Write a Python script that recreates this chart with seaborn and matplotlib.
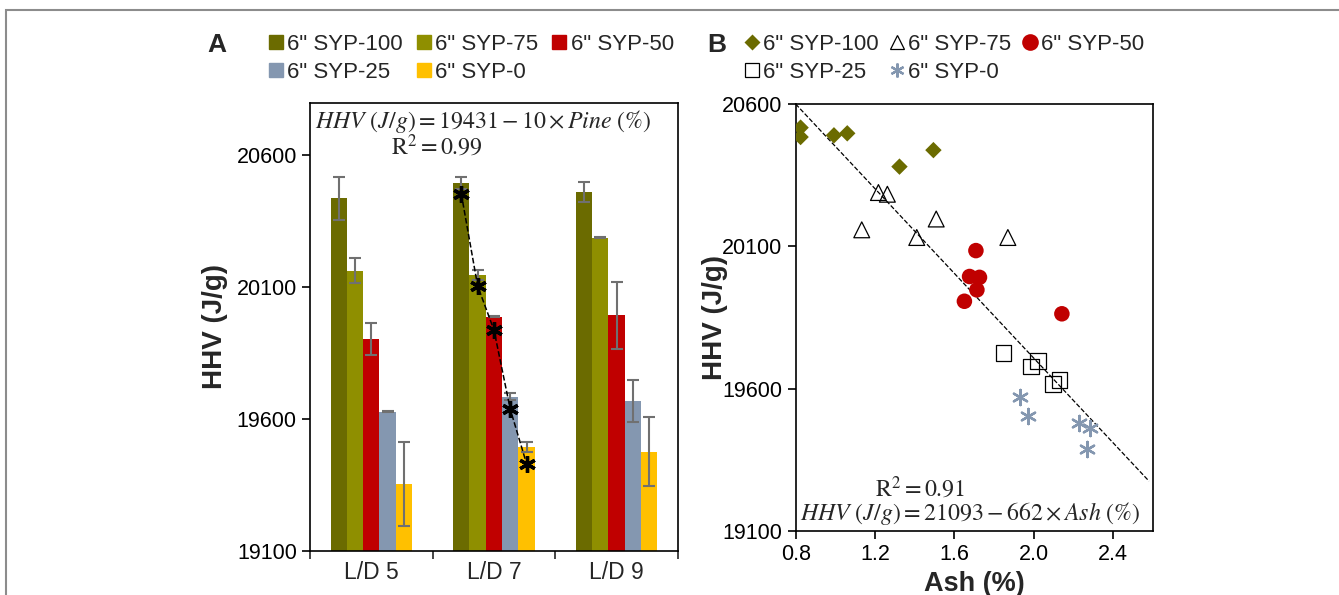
import numpy as np
import pandas as pd
import matplotlib
matplotlib.use("Agg")
import matplotlib.pyplot as plt
import seaborn as sns
from matplotlib.lines import Line2D
from matplotlib.patches import Rectangle

sns.set_style("ticks")
plt.rcParams['font.family'] = ['Liberation Sans', 'DejaVu Sans']
plt.rcParams['mathtext.fontset'] = 'stix'

# datos panel A (barras)
categories = ["L/D 5", "L/D 7", "L/D 9"]
blends = ['6" SYP-100', '6" SYP-75', '6" SYP-50', '6" SYP-25', '6" SYP-0']
colors = ["#6b6b00", "#8f8f00", "#c00000", "#8497b0", "#ffc000"]

hhv_100 = [20436, 20495, 20461]
hhv_75 = [20162, 20145, 20287]
hhv_50 = [19902, 19988, 19993]
hhv_25 = [19628, 19685, 19669]
hhv_0 = [19354, 19493, 19476]

err_100 = [82, 23, 38]
err_75 = [47, 19, 3]
err_50 = [60, 3, 127]
err_25 = [2, 12, 79]
err_0 = [158, 19, 130]

# ajuste lineal (asteriscos sobre L/D 7)
fit_pine = [20452, 20104, 19937, 19637, 19430]

# datos panel B (dispersion)
ash_100 = [0.825, 0.825, 0.993, 1.06, 1.323, 1.494]
hhv_b_100 = [20517, 20484, 20490, 20497, 20380, 20438]
ash_75 = [1.217, 1.262, 1.133, 1.41, 1.508, 1.869]
hhv_b_75 = [20289, 20283, 20158, 20131, 20196, 20131]
ash_50 = [1.708, 1.676, 1.726, 1.713, 1.650, 2.141]
hhv_b_50 = [20085, 19994, 19991, 19947, 19907, 19863]
ash_25 = [1.847, 1.985, 2.020, 2.096, 2.129]
hhv_b_25 = [19725, 19678, 19696, 19617, 19631]
ash_0 = [1.928, 1.968, 2.229, 2.284, 2.267]
hhv_b_0 = [19571, 19504, 19480, 19463, 19387]

trend_x = [0.80, 2.58]
trend_y = [20600, 19275]

df = pd.DataFrame({
    "LD": categories * 5,
    "blend": np.repeat(blends, 3),
    "HHV": hhv_100 + hhv_75 + hhv_50 + hhv_25 + hhv_0,
})
errs = [err_100, err_75, err_50, err_25, err_0]

fig = plt.figure(figsize=(13.39, 5.95), dpi=100)
ax1 = fig.add_axes([0.2315, 0.074, 0.2748, 0.7529])
ax2 = fig.add_axes([0.5942, 0.1076, 0.2669, 0.7176])

# ---------------- panel A
sns.barplot(data=df, x="LD", y="HHV", hue="blend", order=categories, hue_order=blends,
            palette=colors, saturation=1, width=0.665, errorbar=None, legend=False, ax=ax1,
            edgecolor="none", linewidth=0)
bar_conts = list(ax1.containers)
for cont, e in zip(bar_conts, errs):
    xs = [b.get_x() + b.get_width() / 2 for b in cont]
    ys = [b.get_height() for b in cont]
    ax1.errorbar(xs, ys, yerr=e, fmt="none", ecolor="#707070", elinewidth=1.5,
                 capsize=4, capthick=1.5, zorder=3)

# asteriscos y linea del ajuste en L/D 7
xs7 = [c[1].get_x() + c[1].get_width() / 2 for c in bar_conts]
ax1.plot(xs7, fit_pine, ls="--", color="black", lw=1.1, zorder=4)
ax1.plot(xs7, fit_pine, ls="none", marker=(6, 2, 0), ms=12, mew=2.4, color="black", zorder=5)

ax1.set_ylim(19100, 20797)
ax1.set_xlim(-0.5, 2.5)
ax1.set_yticks([19100, 19600, 20100, 20600])
ax1.set_xticks([0, 1, 2])
ax1.set_xticklabels(categories)
ax1.set_xticks([-0.5, 0.5, 1.5, 2.5], minor=True)
ax1.tick_params(axis="x", which="major", length=0, labelsize=16.5, pad=7)
ax1.tick_params(axis="x", which="minor", length=6, width=1.2, direction="out")
ax1.tick_params(axis="y", length=6, width=1.2, labelsize=15.5, colors="black")
ax1.set_xlabel("")
ax1.set_ylabel("HHV (J/g)", fontsize=20, fontweight="bold", labelpad=6)
for s in ax1.spines.values():
    s.set_color("black")
    s.set_linewidth(1.2)

ax1.text(0.014, 0.958, r"$HHV\ (J/g) = 19431 - 10 \times Pine\ (\%)$", transform=ax1.transAxes,
         fontsize=17.2, va="center", ha="left")
ax1.text(0.345, 0.902, r"$\mathrm{R}^2 = 0.99$", transform=ax1.transAxes,
         fontsize=17.2, va="center", ha="center")

handles_a = [Line2D([], [], ls="none", marker="s", ms=10, color=c) for c in colors]
order = [0, 3, 1, 4, 2]
fig.legend([handles_a[i] for i in order], [blends[i] for i in order], ncol=3,
           loc="upper left", bbox_to_anchor=(0.193, 0.958), frameon=False, fontsize=16,
           handletextpad=0.1, columnspacing=0.55, labelspacing=0.3, handlelength=0.8,
           borderaxespad=0)

# ---------------- panel B
sns.scatterplot(x=ash_100, y=hhv_b_100, marker="D", s=70, color="#6b6b00", edgecolor="none", ax=ax2, zorder=3)
sns.scatterplot(x=ash_75, y=hhv_b_75, marker="^", s=130, color="black", facecolor="none",
                edgecolor="black", linewidth=0.9, ax=ax2, zorder=3)
sns.scatterplot(x=ash_50, y=hhv_b_50, marker="o", s=125, color="#c00000", edgecolor="none", ax=ax2, zorder=3)
sns.scatterplot(x=ash_25, y=hhv_b_25, marker="s", s=130, color="black", facecolor="none",
                edgecolor="black", linewidth=0.9, ax=ax2, zorder=3)
sns.scatterplot(x=ash_0, y=hhv_b_0, marker=(6, 2, 0), s=120, color="#8497b0", linewidth=1.7, ax=ax2, zorder=3)
ax2.plot(trend_x, trend_y, ls="--", color="black", lw=0.9, zorder=2)

ax2.set_xlim(0.8, 2.6)
ax2.set_ylim(19100, 20600)
ax2.set_xticks([0.8, 1.2, 1.6, 2.0, 2.4])
ax2.set_xticklabels(["0.8", "1.2", "1.6", "2.0", "2.4"])
ax2.set_yticks([19100, 19600, 20100, 20600])
ax2.tick_params(length=6, width=1.2, labelsize=15.5, colors="black")
ax2.set_xlabel("Ash (%)", fontsize=19.5, fontweight="bold", labelpad=4)
ax2.set_ylabel("HHV (J/g)", fontsize=20, fontweight="bold", labelpad=-4)
for s in ax2.spines.values():
    s.set_color("black")
    s.set_linewidth(1.2)

ax2.text(0.348, 0.098, r"$\mathrm{R}^2 = 0.91$", transform=ax2.transAxes,
         fontsize=17.2, va="center", ha="center")
ax2.text(0.012, 0.04, r"$HHV\ (J/g) = 21093 - 662 \times Ash\ (\%)$", transform=ax2.transAxes,
         fontsize=17.2, va="center", ha="left")

handles_b = [
    Line2D([], [], ls="none", marker="D", ms=8, color="#6b6b00", mec="none"),
    Line2D([], [], ls="none", marker="^", ms=10, mfc="none", mec="black", mew=0.9),
    Line2D([], [], ls="none", marker="o", ms=12, color="#c00000", mec="none"),
    Line2D([], [], ls="none", marker="s", ms=10, mfc="none", mec="black", mew=0.9),
    Line2D([], [], ls="none", marker=(6, 2, 0), ms=10, color="#8497b0", mew=1.6),
]
fig.legend([handles_b[i] for i in order], [blends[i] for i in order], ncol=3,
           loc="upper left", bbox_to_anchor=(0.548, 0.958), frameon=False, fontsize=16,
           handletextpad=0.1, columnspacing=0.45, labelspacing=0.3, handlelength=0.8,
           borderaxespad=0)

# letras de panel
fig.text(0.162, 0.925, "A", fontsize=19, fontweight="bold", va="center", ha="center")
fig.text(0.5355, 0.925, "B", fontsize=19, fontweight="bold", va="center", ha="center")

# marco gris
fig.add_artist(Rectangle((0.0045, -0.05), 1.1, 1.033, transform=fig.transFigure,
                         fill=False, edgecolor="#8c8c8c", lw=1.5))

fig.savefig("out.png", dpi=100)
